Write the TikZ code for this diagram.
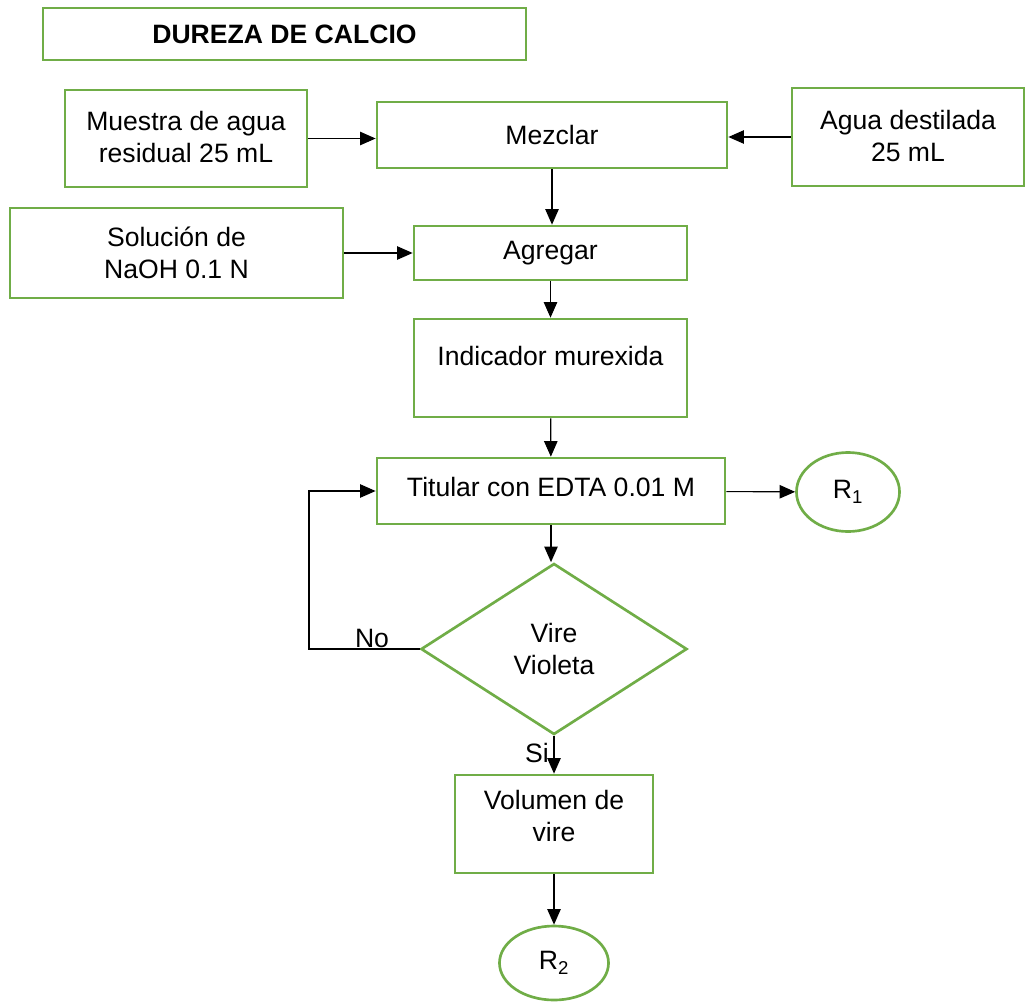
\documentclass[tikz,border=0pt]{standalone}
\usepackage{fontspec}
\setmainfont{Liberation Sans}
\usepackage{xcolor}
\usetikzlibrary{shapes.geometric, arrows.meta, positioning}
\definecolor{verde}{HTML}{70AD47}
\tikzstyle{arrow} = [line width=0.8pt, -{Triangle[length=11pt, width=9.5pt]}]

\begin{document}
\begin{tikzpicture}[
        x=0.025cm, y=-0.025cm,
        every node/.style={font=\fontsize{18.9}{22.8}\selectfont},
        caja/.style={draw=verde, line width=1.9pt, align=center, inner sep=0pt},
        resultado/.style={ellipse, draw=verde, line width=1.9pt, inner sep=0pt},
        decision/.style={diamond, draw=verde, line width=1.9pt, align=center, inner sep=0pt},
    ]
        \useasboundingbox (0, 0) rectangle (1026, 1001);

        \node[caja, minimum width=12.075cm, minimum height=1.3cm, font=\fontsize{18.9}{22.8}\selectfont\bfseries] (titulo) at (284.5, 34) {DUREZA DE CALCIO};

        \node[caja, minimum width=6.05cm, minimum height=2.425cm] (muestra) at (186, 138.5) {Muestra de agua\\residual 25 mL\\[-1.1em]\mbox{}};
        \node[caja, minimum width=8.75cm, minimum height=1.65cm] (mezclar) at (552, 135) {Mezclar\\[-1.2em]\mbox{}};
        \node[caja, minimum width=5.8cm, minimum height=2.45cm] (agua) at (908, 137) {Agua destilada\\25 mL\\[-1.1em]\mbox{}};
        \node[caja, minimum width=8.325cm, minimum height=2.25cm] (solucion) at (176.5, 253) {Solución de\\NaOH 0.1 N};
        \node[caja, minimum width=6.825cm, minimum height=1.35cm] (agregar) at (550.5, 253) {Agregar};
        \node[caja, minimum width=6.825cm, minimum height=2.45cm] (indicador) at (550.5, 368) {Indicador murexida\\[-0.3em]\mbox{}};
        \node[caja, minimum width=8.7cm, minimum height=1.65cm] (titular) at (551, 491) {Titular con EDTA 0.01 M\\[-0.9em]\mbox{}};
        \node[resultado, minimum width=2.575cm, minimum height=1.975cm] (r1) at (848, 492) {R\textsubscript{1}};
        \node[decision, minimum width=6.65cm, minimum height=4.275cm] (vire) at (554, 649) {Vire\\Violeta};
        \node[caja, minimum width=4.95cm, minimum height=2.45cm] (volumen) at (554, 824) {Volumen de\\vire\\[-0.6em]\mbox{}};
        \node[resultado, minimum width=2.725cm, minimum height=1.85cm] (r2) at (554, 963) {R\textsubscript{2}};

        \node (no) at (372, 638) {No};
        \node (si) at (537, 753) {Si};
        \coordinate (vuelta) at (309, 649);

        \draw[arrow] (muestra) -- (muestra -| mezclar.west);
        \draw[arrow] (agua) -- (agua -| mezclar.east);
        \draw[arrow] (solucion) -- (solucion -| agregar.west);
        \draw[arrow] (mezclar) -- (mezclar |- agregar.north);
        \draw[arrow] (agregar) -- (indicador);
        \draw[arrow] (indicador) -- (titular);
        \draw[arrow] (titular) -- (r1);
        \draw[arrow] (titular) -- (titular |- vire.north);
        \draw[arrow] (vire.west) -- (vuelta) |- (titular.west);
        \draw[arrow] (vire) -- (volumen);
        \draw[arrow] (volumen) -- (r2);
    \end{tikzpicture}
\end{document}
